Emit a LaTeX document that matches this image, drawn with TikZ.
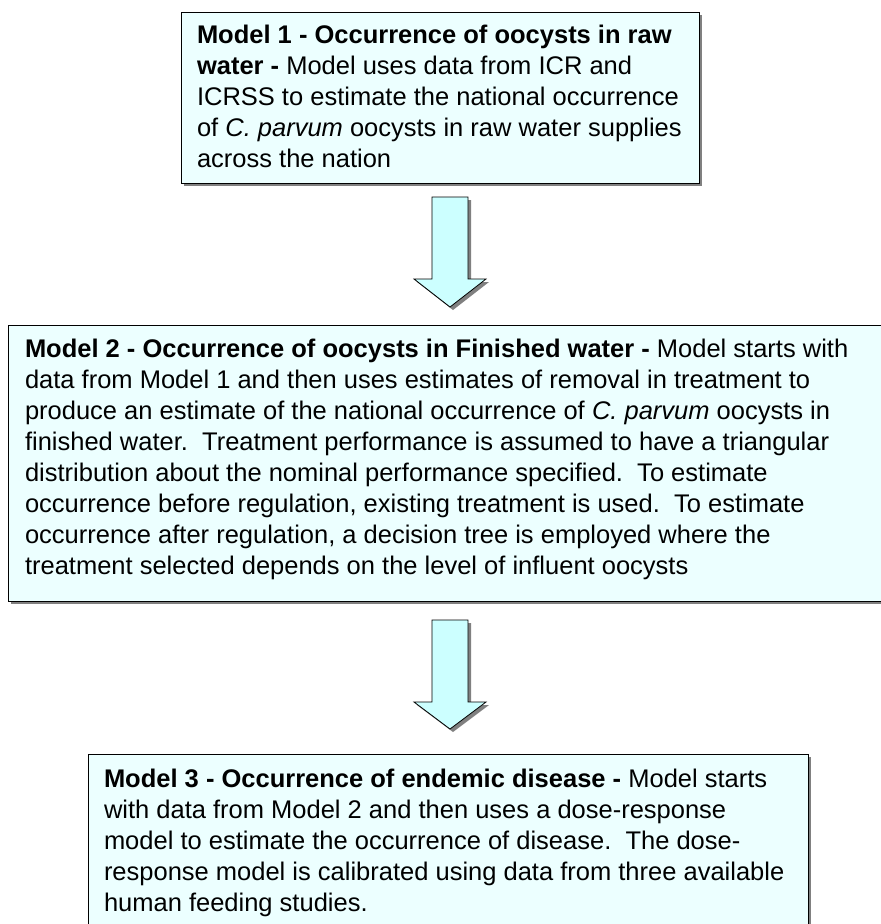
\documentclass[tikz,border=0pt]{standalone}
\usepackage{fontspec}
\setmainfont{Liberation Sans}
\definecolor{boxfill}{RGB}{236,255,255}
\definecolor{arrowfill}{RGB}{204,255,255}
\definecolor{shadowgray}{RGB}{128,128,128}
\tikzset{
  boxshape/.style={draw=black, line width=1pt, fill=boxfill},
  shadowshape/.style={fill=shadowgray, draw=none},
  arrowshape/.style={draw=black, line width=0.8pt, fill=arrowfill, line join=miter},
  txt/.style={anchor=base west, inner sep=0pt, outer sep=0pt},
}
\newcommand{\boxtext}[1]{\parbox[t]{1000pt}{\fontsize{25.5}{31}\selectfont\frenchspacing\hyphenpenalty=10000 #1}}
\begin{document}
\begin{tikzpicture}[x=1pt,y=-1pt]
\useasboundingbox[fill=white] (0,0) rectangle (881,924);
\clip (0,0) rectangle (881,924);
% Box 1
\fill[shadowshape] (184,15) rectangle (702,186);
\draw[boxshape] (181,12) rectangle (699,183);
\node[txt] (t1) at (197,43) {\boxtext{\textbf{Model 1 - Occurrence of oocysts in raw}\\
\textbf{water -} Model uses data from ICR and\\
ICRSS to estimate the national occurrence\\
of \textit{C. parvum} oocysts in raw water supplies\\
across the nation}};
% Arrow 1
\coordinate (a1) at (450,197);
\fill[shadowshape] (435,200) -- (471,200) -- (471,282) -- (489,282) -- (453,310) -- (417,282) -- (435,282) -- cycle;
\draw[arrowshape] (432,197) -- (468,197) -- (468,279) -- (486,279) -- (450,307) -- (414,279) -- (432,279) -- cycle;
% Box 2
\fill[shadowshape] (11,328) rectangle (900,604);
\draw[boxshape] (8,325) rectangle (900,601);
\node[txt] (t2) at (25,357) {\boxtext{\textbf{Model 2 - Occurrence of oocysts in Finished water -} Model starts with\\
data from Model 1 and then uses estimates of removal in treatment to\\
produce an estimate of the national occurrence of \textit{C. parvum} oocysts in\\
finished water.\ \ Treatment performance is assumed to have a triangular\\
distribution about the nominal performance specified.\ \ To estimate\\
occurrence before regulation, existing treatment is used.\ \ To estimate\\
occurrence after regulation, a decision tree is employed where the\\
treatment selected depends on the level of influent oocysts}};
% Arrow 2
\coordinate (a2) at (450,620);
\fill[shadowshape] (435,623) -- (471,623) -- (471,705) -- (489,705) -- (453,732) -- (417,705) -- (435,705) -- cycle;
\draw[arrowshape] (432,620) -- (468,620) -- (468,702) -- (486,702) -- (450,729) -- (414,702) -- (432,702) -- cycle;
% Box 3
\fill[shadowshape] (91,757) rectangle (811,950);
\draw[boxshape] (88,754) rectangle (808,950);
\node[txt] (t3) at (104,787) {\boxtext{\textbf{Model 3 - Occurrence of endemic disease -} Model starts\\
with data from Model 2 and then uses a dose-response\\
model to estimate the occurrence of disease.\ \ The dose-\\
response model is calibrated using data from three available\\
human feeding studies.}};
\end{tikzpicture}
\end{document}
